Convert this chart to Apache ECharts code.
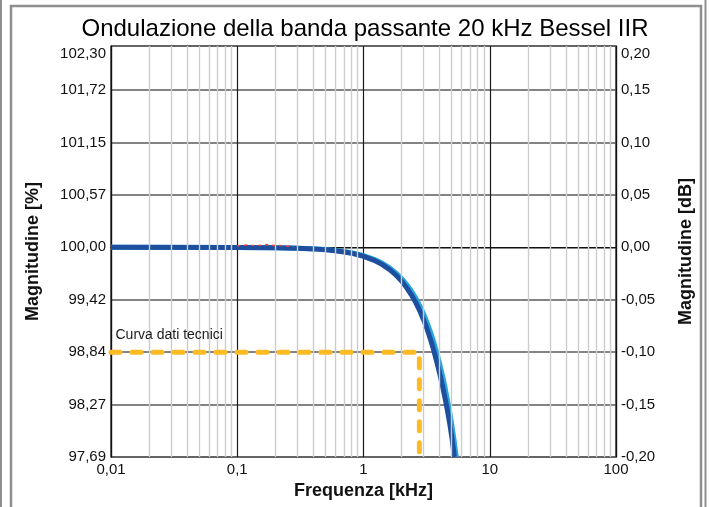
<!DOCTYPE html>
<html>
<head>
<meta charset="utf-8">
<script src="https://cdn.jsdelivr.net/npm/echarts@6/dist/echarts.min.js"></script>
<style>
  html, body { margin: 0; padding: 0; background: #ffffff; }
  #chart { width: 709px; height: 507px; }
</style>
</head>
<body>
<div id="chart"></div>
<script>
// Titles
const titleText = 'Ondulazione della banda passante 20 kHz Bessel IIR';
const xName = 'Frequenza [kHz]';
const yLeftName = 'Magnitudine [%]';
const yRightName = 'Magnitudine [dB]';
const specName = 'Curva dati tecnici';

// Tick labels
const freqTickLabels = ['0,01', '0,1', '1', '10', '100'];            // decades 0.01 .. 100 kHz
const dbTickLabels = ['-0,20', '-0,15', '-0,10', '-0,05', '0,00', '0,05', '0,10', '0,15', '0,20'];
const pctTickLabels = ['97,69', '98,27', '98,84', '99,42', '100,00', '100,57', '101,15', '101,72', '102,30'];

// Measured response, first channel (frequency in kHz, magnitude in dB)
const freqMeasA = [0.01, 0.1, 0.2, 0.3, 0.4, 0.5, 0.6, 0.7, 0.8, 0.9, 1.0, 1.2, 1.4, 1.6, 1.8, 2.0, 2.2, 2.4, 2.6, 2.8, 3.0, 3.2, 3.4, 3.6, 3.8, 4.0, 4.2, 4.4, 4.6, 4.8, 5.0, 5.2, 5.23];
const magMeasA  = [0, -0.0001, -0.0004, -0.0009, -0.0015, -0.0023, -0.0033, -0.0044, -0.0056, -0.0071, -0.0086, -0.0122, -0.0163, -0.0211, -0.0263, -0.0322, -0.0386, -0.0455, -0.0530, -0.0610, -0.0695, -0.0786, -0.0882, -0.0983, -0.1089, -0.1198, -0.1310, -0.1425, -0.1545, -0.1670, -0.1805, -0.1960, -0.2];

// Measured response, second channel
const freqMeasB = [0.01, 0.1, 0.2, 0.3, 0.4, 0.5, 0.6, 0.7, 0.8, 0.9, 1.0, 1.2, 1.4, 1.6, 1.8, 2.0, 2.2, 2.4, 2.6, 2.8, 3.0, 3.2, 3.4, 3.6, 3.8, 4.0, 4.2, 4.4, 4.6, 4.8, 5.0, 5.2, 5.4, 5.43];
const magMeasB  = [0, -0.0001, -0.0004, -0.0008, -0.0014, -0.0021, -0.0030, -0.0040, -0.0052, -0.0065, -0.0079, -0.0112, -0.0150, -0.0194, -0.0242, -0.0296, -0.0355, -0.0419, -0.0487, -0.0561, -0.0639, -0.0723, -0.0811, -0.0904, -0.1002, -0.1105, -0.1212, -0.1324, -0.1441, -0.1562, -0.1690, -0.1830, -0.1975, -0.2];

const freqRipple = [0.1, 0.12, 0.14, 0.17, 0.2, 0.24, 0.28];
const magRipple  = [0.0012, 0.0022, 0.0016, 0.0024, 0.0018, 0.0014, 0.0006];

// Datasheet limit
const freqSpec = [0.01, 2.77, 2.77];
const magSpec  = [-0.1, -0.1, -0.2];

// Axis ranges
const dbMin = -0.2, dbMax = 0.192, dbStep = 0.05;

const zip = (xs, ys) => xs.map((x, i) => [x, ys[i]]);

// Light grid lines at 2..9 within each decade
const minorFreqs = [];
[0.01, 0.1, 1, 10].forEach(d => { for (let k = 2; k <= 9; k++) minorFreqs.push(+(d * k).toPrecision(3)); });

const font = "'Liberation Sans', Arial, Helvetica, sans-serif";

function dbIndex(v) {
  return v > dbMax - 0.005 ? dbTickLabels.length - 1 : Math.round((v - dbMin) / dbStep);
}

const chart = echarts.init(document.getElementById('chart'), null, { renderer: 'canvas' });

chart.setOption({
  animation: false,
  backgroundColor: '#ffffff',
  textStyle: { fontFamily: font },
  title: {
    text: titleText,
    left: 360,
    top: 12,
    textAlign: 'center',
    textStyle: { fontFamily: font, fontSize: 24, fontWeight: 'normal', color: '#000' }
  },
  graphic: [
    { type: 'line', shape: { x1: 1, y1: 0, x2: 1, y2: 507 }, style: { stroke: '#8e8e8e', lineWidth: 2 }, silent: true },
    { type: 'rect', shape: { x: 11, y: 6, width: 690, height: 530 }, style: { fill: 'none', stroke: '#8e8e8e', lineWidth: 2.5 }, silent: true },
    { type: 'line', shape: { x1: 705.5, y1: 0, x2: 705.5, y2: 507 }, style: { stroke: '#8e8e8e', lineWidth: 2 }, silent: true }
  ],
  grid: {
    left: 111, right: 93, top: 46, bottom: 50,
    show: true, borderColor: '#111', borderWidth: 1.2, backgroundColor: 'transparent'
  },
  xAxis: {
    type: 'log',
    logBase: 10,
    min: 0.01,
    max: 100,
    name: xName,
    nameLocation: 'middle',
    nameGap: 25,
    nameTextStyle: { fontFamily: font, fontSize: 18, fontWeight: 'bold', color: '#111' },
    axisLine: { show: true, lineStyle: { color: '#111', width: 1.2 } },
    axisTick: { show: false },
    axisLabel: {
      margin: 5, fontFamily: font, fontSize: 15, color: '#111',
      formatter: v => freqTickLabels[Math.round(Math.log10(v)) + 2]
    },
    splitLine: { show: true, lineStyle: { color: '#1a1a1a', width: 1.2 } }
  },
  yAxis: [
    {
      type: 'value',
      position: 'left',
      min: dbMin, max: dbMax, interval: dbStep,
      name: yLeftName,
      nameLocation: 'middle',
      nameRotate: 90,
      nameGap: 69,
      nameTextStyle: { fontFamily: font, fontSize: 18, fontWeight: 'bold', color: '#111' },
      axisLine: { show: true, lineStyle: { color: '#111', width: 1.2 } },
      axisTick: { show: false },
      axisLabel: {
        margin: 5, fontFamily: font, fontSize: 15, color: '#111',
        verticalAlignMaxLabel: 'top',
        formatter: v => pctTickLabels[dbIndex(v)]
      },
      splitLine: { show: true, lineStyle: { color: '#5a5a5a', width: 1.5 } }
    },
    {
      type: 'value',
      position: 'right',
      min: dbMin, max: dbMax, interval: dbStep,
      name: yRightName,
      nameLocation: 'middle',
      nameRotate: 90,
      nameGap: 61,
      nameTextStyle: { fontFamily: font, fontSize: 18, fontWeight: 'bold', color: '#111' },
      axisLine: { show: true, lineStyle: { color: '#111', width: 1.2 } },
      axisTick: { show: false },
      axisLabel: {
        margin: 5, fontFamily: font, fontSize: 15, color: '#111',
        verticalAlignMaxLabel: 'top',
        formatter: v => dbTickLabels[dbIndex(v)]
      },
      splitLine: { show: false }
    }
  ],
  series: [
    {
      name: 'griglia',
      type: 'line',
      data: [],
      silent: true,
      z: 1,
      markLine: {
        silent: true,
        symbol: ['none', 'none'],
        label: { show: false },
        lineStyle: { color: '#cdcdcd', width: 1.4, type: 'solid' },
        data: minorFreqs.map(f => ({ xAxis: f }))
      }
    },
    {
      name: 'B',
      type: 'line',
      data: zip(freqMeasB, magMeasB),
      showSymbol: false,
      lineStyle: { color: '#27a6df', width: 5, join: 'round' },
      z: 3
    },
    {
      name: 'A',
      type: 'line',
      data: zip(freqMeasA, magMeasA),
      showSymbol: false,
      lineStyle: { color: '#1d4f9e', width: 5, join: 'round' },
      z: 4
    },
    {
      name: 'ripple',
      type: 'line',
      data: zip(freqRipple, magRipple),
      showSymbol: false,
      smooth: true,
      lineStyle: { color: '#e8453c', width: 1.5, type: [3, 4] },
      z: 5
    },
    {
      name: specName,
      type: 'line',
      data: zip(freqSpec, magSpec),
      showSymbol: false,
      lineStyle: { color: '#fcbb25', width: 5, type: [9, 12], cap: 'round', join: 'round' },
      z: 6,
      markPoint: {
        silent: true,
        symbol: 'circle',
        symbolSize: 1,
        itemStyle: { color: 'transparent' },
        data: [{
          coord: [freqSpec[0], magSpec[0]],
          label: {
            show: true,
            position: [5, -24],
            formatter: specName,
            fontFamily: font,
            fontSize: 14,
            color: '#1a1a1a'
          }
        }]
      }
    }
  ]
});
</script>
</body>
</html>
